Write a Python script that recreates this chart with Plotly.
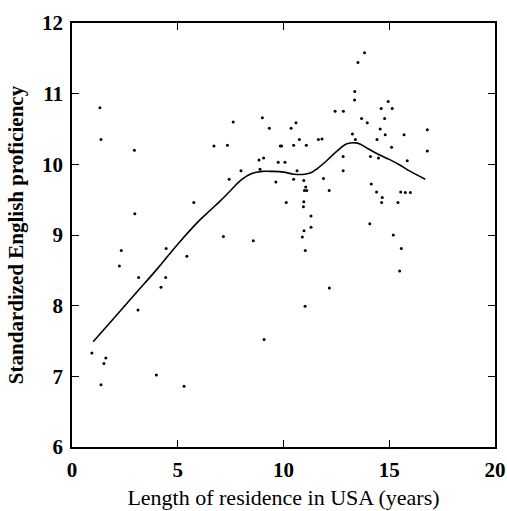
import plotly.graph_objects as go

# Scatter data: length of residence (years) vs standardized English proficiency
years = [1.32, 1.37, 2.95, 2.97, 5.76, 7.62, 9.0, 9.33, 6.71, 7.35, 8.84, 9.06, 7.99, 7.43,
         8.89, 9.64, 9.75, 9.85, 7.16, 8.57, 2.33, 4.45, 5.43, 2.24, 3.15, 4.43, 4.21, 3.12,
         9.08, 0.94, 1.51, 1.60, 1.37, 3.99, 5.30,
         13.83, 13.52, 13.37, 13.36, 14.95, 14.62, 15.14, 12.44, 12.83, 13.69, 14.78, 13.96,
         10.59, 10.36, 14.57, 14.81, 15.70, 16.80, 13.26, 13.40, 14.42, 10.75, 11.65, 11.82,
         9.91, 10.48, 11.08, 12.82, 14.11, 14.49, 15.11, 16.80, 15.85, 10.07, 12.82, 10.64,
         10.48, 10.96, 11.89, 12.16, 14.15, 11.05, 10.99, 11.10, 14.40, 15.54, 15.76, 16.0,
         14.67, 14.64, 15.41, 10.13, 10.96, 10.94, 11.30, 14.08, 11.30, 10.97, 10.89, 15.19,
         11.03, 15.57, 15.49, 12.17, 11.02]
proficiency = [10.80, 10.35, 10.20, 9.30, 9.46, 10.60, 10.66, 10.51, 10.26, 10.27, 10.06, 10.09,
               9.91, 9.79, 9.93, 9.75, 10.03, 10.26, 8.98, 8.92, 8.78, 8.81, 8.70, 8.56, 8.40,
               8.40, 8.26, 7.94, 7.52, 7.33, 7.18, 7.26, 6.88, 7.02, 6.86,
               11.58, 11.44, 11.03, 10.91, 10.89, 10.79, 10.79, 10.75, 10.75, 10.65, 10.65, 10.59,
               10.59, 10.51, 10.50, 10.42, 10.42, 10.49, 10.43, 10.35, 10.35, 10.35, 10.35, 10.36,
               10.26, 10.27, 10.27, 10.11, 10.11, 10.09, 10.24, 10.19, 10.05, 10.03, 9.91, 9.91,
               9.79, 9.77, 9.80, 9.63, 9.72, 9.68, 9.63, 9.63, 9.61, 9.61, 9.60, 9.60,
               9.53, 9.46, 9.46, 9.46, 9.47, 9.40, 9.27, 9.16, 9.11, 9.06, 8.97, 9.00,
               8.78, 8.81, 8.49, 8.25, 7.99]

# Smoothed (lowess-like) curve
smooth_x = [1.0, 2, 3, 4, 5, 6, 6.5, 7, 7.5, 8, 8.5, 9, 9.5, 10, 10.5, 11, 11.3, 11.6,
            12, 12.5, 13, 13.5, 14, 14.5, 15, 15.5, 16, 16.7]
smooth_y = [7.49, 7.83, 8.17, 8.51, 8.87, 9.20, 9.34, 9.48, 9.63, 9.78, 9.87, 9.90, 9.90,
            9.89, 9.86, 9.86, 9.88, 9.94, 10.04, 10.18, 10.29, 10.30, 10.22, 10.14, 10.07,
            9.99, 9.90, 9.79]

x_ticks = [0, 5, 10, 15, 20]
y_ticks = [6, 7, 8, 9, 10, 11, 12]

fig = go.Figure()
fig.add_trace(go.Scatter(x=years, y=proficiency, mode="markers",
                         marker=dict(color="black", size=3), showlegend=False))
fig.add_trace(go.Scatter(x=smooth_x, y=smooth_y, mode="lines", line_shape="spline",
                         line=dict(color="black", width=1.6), showlegend=False))

SERIF = "Liberation Serif, Times New Roman, serif"
axis_common = dict(showgrid=False, zeroline=False, showline=True, linecolor="black",
                   linewidth=1.5, mirror="ticks", ticks="inside", ticklen=7,
                   tickcolor="black", tickwidth=1.2, ticklabelstandoff=3, automargin=False,
                   tickfont=dict(family=SERIF, size=21, weight="bold", color="black"))

fig.update_layout(
    width=507, height=511,
    margin=dict(l=72, r=12, t=23, b=64),
    paper_bgcolor="white", plot_bgcolor="white",
    font=dict(family=SERIF, color="black"),
    xaxis=dict(range=[0, 20], tickvals=x_ticks, ticktext=[str(v) for v in x_ticks],
               title=dict(text="Length of residence in USA (years)",
                          font=dict(family=SERIF, size=22, color="black"), standoff=9),
               **axis_common),
    yaxis=dict(range=[6, 12], tickvals=y_ticks, ticktext=[str(v) for v in y_ticks],
               title=dict(text="Standardized English proficiency",
                          font=dict(family=SERIF, size=21, weight="bold", color="black"),
                          standoff=13),
               **axis_common),
)

fig.write_html("out.html", config={"displayModeBar": False},
               post_script="document.body.style.margin='0';document.body.style.overflow='hidden';")
